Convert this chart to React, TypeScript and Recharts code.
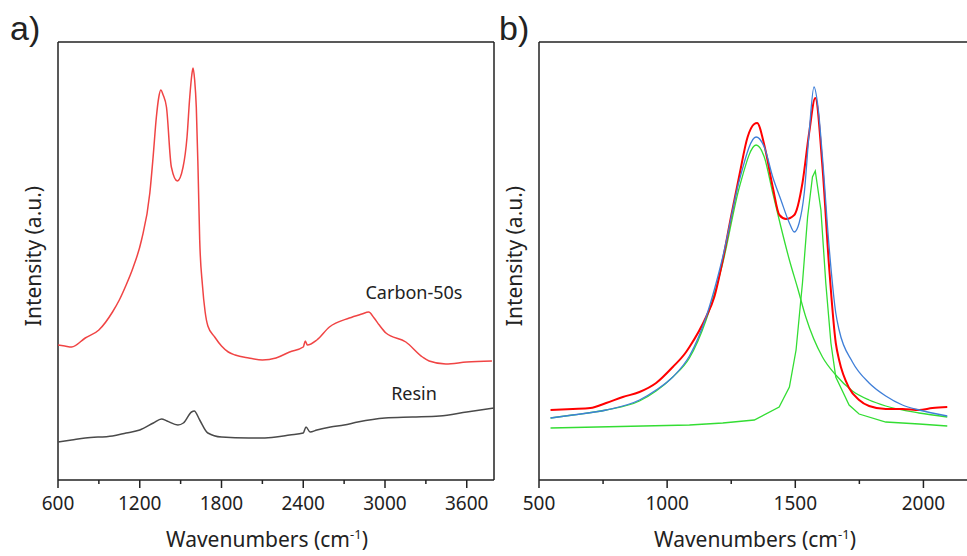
import React from 'react';
import { LineChart, Line, XAxis, YAxis, ReferenceLine } from 'recharts';

// panel a) – full spectra
const carbonWn = [600, 650, 700, 800, 900, 1000, 1050, 1100, 1150, 1213, 1274, 1298, 1322, 1340, 1354, 1372, 1396, 1432, 1476, 1518, 1547, 1567, 1582, 1591, 1603, 1615, 1628, 1640, 1660, 1680, 1700, 1750, 1800, 1850, 1900, 2000, 2100, 2200, 2300, 2400, 2415, 2430, 2500, 2592, 2738, 2830, 2880, 2920, 2958, 3007, 3153, 3275, 3324, 3446, 3600, 3785];
const carbonI = [135, 134, 133, 142, 150, 168, 180, 195, 212, 240, 287, 323, 363, 383, 390, 385, 373, 313, 299, 313, 343, 383, 405, 412, 400, 373, 310, 240, 195, 168, 154, 143, 134, 128, 125, 122, 120, 122, 128, 133, 139, 135, 140, 153, 162, 166, 168, 162, 155, 147, 138, 123, 119, 116, 118, 119];
const resinWn = [600, 700, 800, 1000, 1100, 1200, 1300, 1360, 1400, 1480, 1520, 1580, 1600, 1640, 1700, 1800, 2000, 2100, 2200, 2300, 2400, 2420, 2450, 2500, 2600, 2700, 2800, 3000, 3200, 3400, 3600, 3800];
const resinI = [38, 40, 42, 44, 47, 50, 57, 61, 59, 55, 57, 68, 69, 60, 47, 43, 42, 42, 43, 45, 47, 53, 48, 50, 53, 55, 58, 62, 63, 64, 68, 72];

// panel b) – D/G fit
const measWn = [545, 632, 700, 762, 827, 892, 957, 1022, 1074, 1087, 1152, 1184, 1217, 1249, 1282, 1314, 1340, 1351, 1379, 1412, 1438, 1464, 1496, 1528, 1554, 1578, 1606, 1632, 1658, 1671, 1710, 1749, 1788, 1853, 1918, 1983, 2035, 2093];
const measI = [70, 71, 72, 77, 83, 88, 97, 113, 128, 133, 163, 183, 220, 263, 305, 343, 356, 357, 335, 293, 265, 261, 265, 297, 347, 382, 313, 213, 137, 120, 92, 80, 74, 71, 71, 70, 72, 73];
const fitWn = [545, 632, 762, 892, 957, 1022, 1087, 1152, 1217, 1282, 1347, 1379, 1412, 1444, 1477, 1496, 1515, 1535, 1554, 1573, 1590, 1606, 1632, 1658, 1671, 1723, 1788, 1853, 1918, 1983, 2093];
const fitI = [62, 65, 70, 80, 90, 103, 124, 163, 223, 300, 343, 333, 303, 280, 257, 248, 257, 287, 347, 393, 370, 323, 233, 167, 150, 118, 97, 84, 75, 70, 64];
const dBandWn = [545, 632, 762, 892, 957, 1022, 1087, 1152, 1217, 1282, 1347, 1379, 1412, 1444, 1477, 1509, 1541, 1606, 1658, 1723, 1788, 1853, 1983, 2093];
const dBandI = [62, 65, 70, 79, 89, 103, 122, 160, 217, 293, 335, 323, 287, 253, 220, 192, 163, 123, 105, 89, 80, 74, 67, 63];
const gBandWn = [545, 1087, 1217, 1340, 1437, 1477, 1503, 1528, 1548, 1567, 1578, 1600, 1619, 1639, 1658, 1710, 1749, 1853, 1983, 2093];
const gBandI = [52, 55, 57, 60, 73, 93, 130, 197, 263, 303, 309, 270, 197, 137, 103, 75, 66, 58, 56, 54];

const ticksA = [600, 900, 1200, 1500, 1800, 2100, 2400, 2700, 3000, 3300, 3600];
const ticksB = [500, 750, 1000, 1250, 1500, 1750, 2000];

const toPoints = (xs: number[], ys: number[]) => xs.map((x, i) => ({ x, y: ys[i] }));

const FONT = '"Noto Sans", sans-serif';
const INK = '#222';

function WaveTick(props: any) {
  const { x, y, payload, major } = props;
  const isMajor = payload.value % major === 0;
  return (
    <g>
      <line x1={x} x2={x} y1={y} y2={y + (isMajor ? 8 : 4)} stroke={INK} strokeWidth={1.5} />
      {isMajor && (
        <text x={x} y={y + 30} textAnchor="middle" fontSize={19} fill={INK} fontFamily={FONT}>
          {payload.value}
        </text>
      )}
    </g>
  );
}

function Panel({ left, width, rightMargin, domain, ticks, major, boxRight, children }: any) {
  return (
    <div style={{ position: 'absolute', left, top: 0 }}>
      <LineChart width={width} height={556} margin={{ top: 42, right: rightMargin, bottom: 0, left: 59 }}>
        <XAxis
          type="number"
          dataKey="x"
          domain={domain}
          ticks={ticks}
          interval={0}
          height={76}
          tickSize={0}
          tickMargin={0}
          tickLine={false}
          axisLine={{ stroke: INK, strokeWidth: 1.5 }}
          tick={<WaveTick major={major} />}
          allowDataOverflow
        />
        <YAxis type="number" domain={[0, 438]} hide allowDataOverflow />
        <ReferenceLine y={438} stroke={INK} strokeWidth={1.5} />
        <ReferenceLine x={domain[0]} stroke={INK} strokeWidth={1.5} />
        {boxRight && <ReferenceLine x={domain[1]} stroke={INK} strokeWidth={1.5} />}
        {children}
      </LineChart>
    </div>
  );
}

function AxisTitle({ x }: { x: number }) {
  return (
    <text x={x} y={547} textAnchor="middle" fontSize={21} fill={INK} fontFamily={FONT}>
      Wavenumbers (cm
      <tspan fontSize={13} dy={-8}>-1</tspan>
      <tspan dy={8}>)</tspan>
    </text>
  );
}

function YTitle({ x }: { x: number }) {
  return (
    <text
      x={x}
      y={256}
      transform={`rotate(-90 ${x} 256)`}
      textAnchor="middle"
      dominantBaseline="central"
      fontSize={21}
      fill={INK}
      fontFamily={FONT}
    >
      Intensity (a.u.)
    </text>
  );
}

export default function App() {
  return (
    <div style={{ position: 'relative', width: 967, height: 556, background: '#fff', overflow: 'hidden' }}>
      <style>{'body{margin:0}'}</style>

      <Panel left={-1} width={496} rightMargin={1} domain={[600, 3800]} ticks={ticksA} major={600} boxRight>
        <Line type="monotone" data={toPoints(resinWn, resinI)} dataKey="y" stroke="#4a4a4a" strokeWidth={1.5} dot={false} isAnimationActive={false} />
        <Line type="monotone" data={toPoints(carbonWn, carbonI)} dataKey="y" stroke="#f04444" strokeWidth={1.5} dot={false} isAnimationActive={false} />
      </Panel>

      <Panel left={480} width={487} rightMargin={0} domain={[500, 2170]} ticks={ticksB} major={500} boxRight={false}>
        <Line type="linear" data={toPoints(gBandWn, gBandI)} dataKey="y" stroke="#33dd33" strokeWidth={1.3} dot={false} isAnimationActive={false} />
        <Line type="monotone" data={toPoints(dBandWn, dBandI)} dataKey="y" stroke="#33dd33" strokeWidth={1.3} dot={false} isAnimationActive={false} />
        <Line type="monotone" data={toPoints(measWn, measI)} dataKey="y" stroke="#ff0000" strokeWidth={2} dot={false} isAnimationActive={false} />
        <Line type="monotone" data={toPoints(fitWn, fitI)} dataKey="y" stroke="#3f7fd8" strokeWidth={1.3} dot={false} isAnimationActive={false} />
      </Panel>

      <svg width={967} height={556} style={{ position: 'absolute', left: 0, top: 0, pointerEvents: 'none' }}>
        <text x={10} y={40} fontSize={34} fill={INK} fontFamily='"Liberation Sans", Arial, sans-serif'>a)</text>
        <text x={499} y={40} fontSize={34} fill={INK} fontFamily='"Liberation Sans", Arial, sans-serif'>b)</text>
        <YTitle x={33} />
        <YTitle x={514} />
        <AxisTitle x={267} />
        <AxisTitle x={755} />
        <text x={414} y={292} textAnchor="middle" dominantBaseline="central" fontSize={18} fill={INK} fontFamily={FONT}>
          Carbon-50s
        </text>
        <text x={414} y={393} textAnchor="middle" dominantBaseline="central" fontSize={18} fill={INK} fontFamily={FONT}>
          Resin
        </text>
      </svg>
    </div>
  );
}
